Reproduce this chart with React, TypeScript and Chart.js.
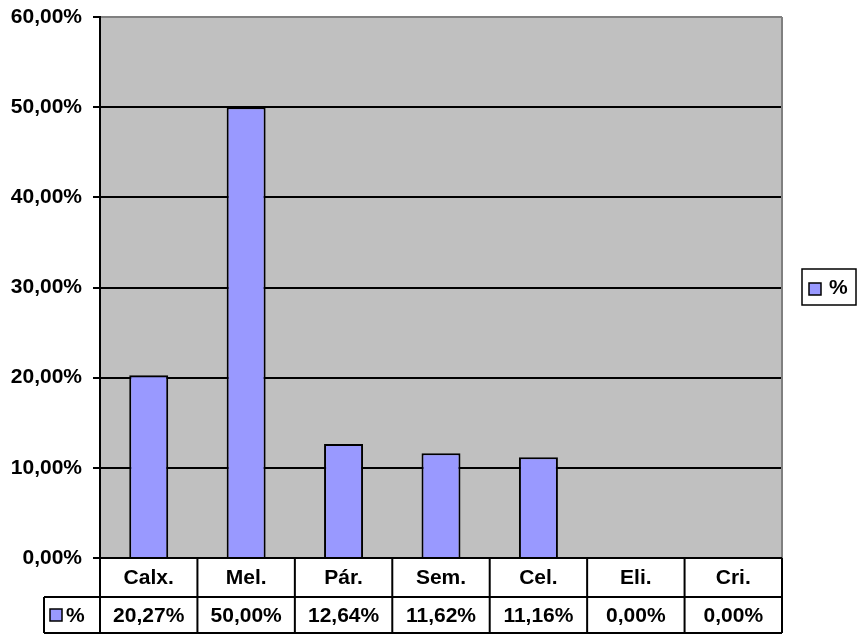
import React, { useEffect, useRef } from "react";
import { Chart, registerables } from "chart.js";

Chart.register(...registerables);

const categories = ["Calx.", "Mel.", "Pár.", "Sem.", "Cel.", "Eli.", "Cri."];
const values = [20.27, 50.0, 12.64, 11.62, 11.16, 0.0, 0.0];
const seriesLabel = "%";
const yMin = 0;
const yMax = 60;
const yStep = 10;

const FONT = '"Liberation Sans", Arial, sans-serif';
const BAR_COLOR = "#9999FF";
const PLOT_BG = "#C0C0C0";

const fmt = (v: number) => v.toFixed(2).replace(".", ",") + "%";

const tablePlugin = {
  id: "tablePlugin",
  beforeDraw(chart: any) {
    const { ctx, chartArea } = chart;
    ctx.save();
    ctx.fillStyle = "#FFFFFF";
    ctx.fillRect(0, 0, chart.width, chart.height);
    ctx.fillStyle = PLOT_BG;
    ctx.fillRect(chartArea.left, chartArea.top, chartArea.right - chartArea.left, chartArea.bottom - chartArea.top);
    ctx.restore();
  },
  afterDraw(chart: any) {
    const { ctx, chartArea } = chart;
    const xs = chart.scales.x;
    const left = chartArea.left;
    const right = chartArea.right;
    const bottom = chartArea.bottom;
    const n = categories.length;
    const colW = (right - left) / n;
    const row1Bottom = bottom + 39;
    const row2Bottom = row1Bottom + 36;
    const keyLeft = 44;

    ctx.save();
    ctx.strokeStyle = "#808080";
    ctx.lineWidth = 2;
    ctx.beginPath();
    ctx.moveTo(right, chartArea.top);
    ctx.lineTo(right, bottom);
    ctx.stroke();

    ctx.strokeStyle = "#000000";
    ctx.lineWidth = 2;
    ctx.beginPath();
    ctx.moveTo(left, bottom);
    ctx.lineTo(right, bottom);
    ctx.moveTo(keyLeft, row1Bottom);
    ctx.lineTo(right, row1Bottom);
    ctx.moveTo(keyLeft, row2Bottom);
    ctx.lineTo(right, row2Bottom);
    ctx.moveTo(keyLeft, row1Bottom);
    ctx.lineTo(keyLeft, row2Bottom);
    for (let i = 0; i <= n; i++) {
      const x = left + i * colW;
      ctx.moveTo(x, bottom);
      ctx.lineTo(x, row2Bottom);
    }
    ctx.stroke();

    ctx.fillStyle = "#000000";
    ctx.font = `bold 21px ${FONT}`;
    ctx.textAlign = "center";
    ctx.textBaseline = "middle";
    categories.forEach((c, i) => {
      const cx = xs.getPixelForValue(i);
      ctx.fillText(c, cx, (bottom + row1Bottom) / 2 + 1);
      ctx.fillText(fmt(values[i]), cx, (row1Bottom + row2Bottom) / 2 + 1);
    });

    const ky = (row1Bottom + row2Bottom) / 2;
    ctx.fillStyle = BAR_COLOR;
    ctx.fillRect(50, ky - 6, 12, 12);
    ctx.lineWidth = 1.5;
    ctx.strokeRect(50, ky - 6, 12, 12);
    ctx.fillStyle = "#000000";
    ctx.textAlign = "left";
    ctx.fillText(seriesLabel, 66, ky + 1);

    const lx = 802, ly = 269, lw = 54, lh = 36;
    ctx.fillStyle = "#FFFFFF";
    ctx.fillRect(lx, ly, lw, lh);
    ctx.strokeStyle = "#000000";
    ctx.lineWidth = 1.5;
    ctx.strokeRect(lx, ly, lw, lh);
    ctx.fillStyle = BAR_COLOR;
    ctx.fillRect(809, 283, 12, 12);
    ctx.strokeRect(809, 283, 12, 12);
    ctx.fillStyle = "#000000";
    ctx.textAlign = "left";
    ctx.fillText(seriesLabel, 829, ly + lh / 2 + 1);
    ctx.restore();
  },
};

export default function App() {
  const ref = useRef<HTMLCanvasElement | null>(null);
  useEffect(() => {
    if (!ref.current) return;
    const chart = new Chart(ref.current, {
      type: "bar",
      data: {
        labels: categories,
        datasets: [
          {
            label: seriesLabel,
            data: values,
            backgroundColor: BAR_COLOR,
            borderColor: "#000000",
            borderWidth: (c: any) => (c.raw === 0 ? 0 : 2),
            borderSkipped: "bottom",
            categoryPercentage: 1,
            barPercentage: 0.4,
          },
        ],
      },
      options: {
        animation: false,
        responsive: false,
        maintainAspectRatio: false,
        layout: { padding: { left: 0, top: 17, right: 76, bottom: 76 } },
        plugins: { legend: { display: false }, tooltip: { enabled: false } },
        scales: {
          x: { display: false },
          y: {
            min: yMin,
            max: yMax,
            afterFit: (s: any) => {
              s.width = 100;
              s.paddingTop = 0;
              s.paddingBottom = 0;
            },
            ticks: {
              stepSize: yStep,
              padding: 11,
              color: "#000000",
              font: { family: FONT, size: 21, weight: "bold" },
              callback: (v: any) => fmt(Number(v)),
            },
            grid: {
              color: (c: any) => (c.tick && c.tick.value === yMax ? "#808080" : "#000000"),
              lineWidth: 2,
              tickLength: 7,
              tickColor: "#000000",
              tickWidth: 2,
            },
            border: { color: "#000000", width: 2 },
          },
        },
      },
      plugins: [tablePlugin],
    } as any);
    return () => chart.destroy();
  }, []);
  return (
    <div style={{ position: "absolute", left: 0, top: 0, width: 858, height: 634, background: "#fff" }}>
      <canvas ref={ref} width={858} height={634} />
    </div>
  );
}
